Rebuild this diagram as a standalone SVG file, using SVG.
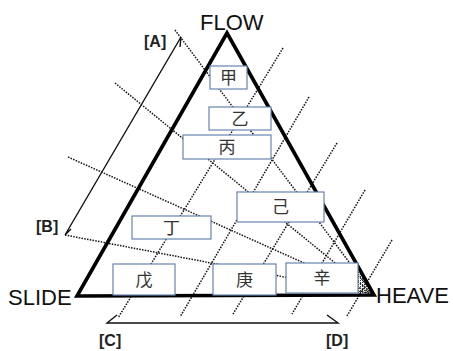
<svg xmlns="http://www.w3.org/2000/svg" width="453" height="351" viewBox="0 0 453 351">
<defs>
<style>
.dot{stroke:#111;stroke-width:1.5;stroke-dasharray:1.5 1.3;fill:none}
.axis{stroke:#111;stroke-width:1.4;fill:none}
.tri{stroke:#000;stroke-width:3.6;fill:none;stroke-linejoin:miter}
.box{fill:#fff;stroke:#6684b0;stroke-width:1.2}
.cjk{font-family:"Noto Sans CJK SC","Noto Sans CJK JP",sans-serif;font-size:17px;fill:#333;text-anchor:middle}
.big{font-family:"Liberation Sans",Arial,sans-serif;font-size:22px;fill:#111}
.lab{font-family:"Liberation Sans",Arial,sans-serif;font-size:16px;font-weight:bold;fill:#222}
</style>
<pattern id="hatch" width="2" height="2" patternUnits="userSpaceOnUse"><rect width="1" height="1" fill="#333"/></pattern>
</defs>
<rect width="453" height="351" fill="#fff"/>
<g id="connectors">
<line class="dot" x1="175" y1="30" x2="373" y2="294"/>
<line class="dot" x1="115" y1="83" x2="373" y2="294"/>
<line class="dot" x1="68" y1="157" x2="373" y2="294"/>
<line class="dot" x1="65" y1="235" x2="373" y2="294"/>
<line class="dot" x1="283" y1="48" x2="118" y2="318"/>
<line class="dot" x1="309" y1="97" x2="180" y2="317"/>
<line class="dot" x1="337" y1="143" x2="233" y2="314"/>
<line class="dot" x1="365" y1="190" x2="292" y2="314"/>
<line class="dot" x1="392" y1="240" x2="347" y2="316"/>
<polygon points="358,268 358,294 372,294" fill="url(#hatch)"/>
<polyline class="axis" points="180,47 181,37 65,235 71,229"/>
<polyline class="axis" points="117,315 107,323 338,323 327,315"/>
</g>
<g id="triangle">
<polygon class="tri" points="227,33 77,296 374,295"/>
</g>
<g id="n-jia"><rect class="box" x="210" y="66" width="37" height="23"/><text class="cjk" x="228.5" y="83.5">甲</text></g>
<g id="n-yi"><rect class="box" x="209" y="107" width="62" height="23"/><text class="cjk" x="240" y="124.5">乙</text></g>
<g id="n-bing"><rect class="box" x="183" y="135" width="88" height="24"/><text class="cjk" x="227" y="153">丙</text></g>
<g id="n-ding"><rect class="box" x="132" y="216" width="79" height="23"/><text class="cjk" x="171.5" y="233.5">丁</text></g>
<g id="n-ji"><rect class="box" x="237" y="192" width="87" height="30"/><text class="cjk" x="280.5" y="213">己</text></g>
<g id="n-wu"><rect class="box" x="113" y="264" width="62" height="31"/><text class="cjk" x="144" y="285.5">戊</text></g>
<g id="n-geng"><rect class="box" x="213" y="264" width="63" height="31"/><text class="cjk" x="244.5" y="285.5">庚</text></g>
<g id="n-xin"><rect class="box" x="286" y="263" width="72" height="30"/><text class="cjk" x="322" y="284">辛</text></g>
<g id="labels">
<text class="big" x="200" y="30">FLOW</text>
<text class="big" x="8" y="305">SLIDE</text>
<text class="big" x="376" y="303">HEAVE</text>
<text class="lab" x="144" y="47">[A]</text>
<text class="lab" x="36" y="232">[B]</text>
<text class="lab" x="99" y="346">[C]</text>
<text class="lab" x="326" y="346">[D]</text>
</g>
</svg>
